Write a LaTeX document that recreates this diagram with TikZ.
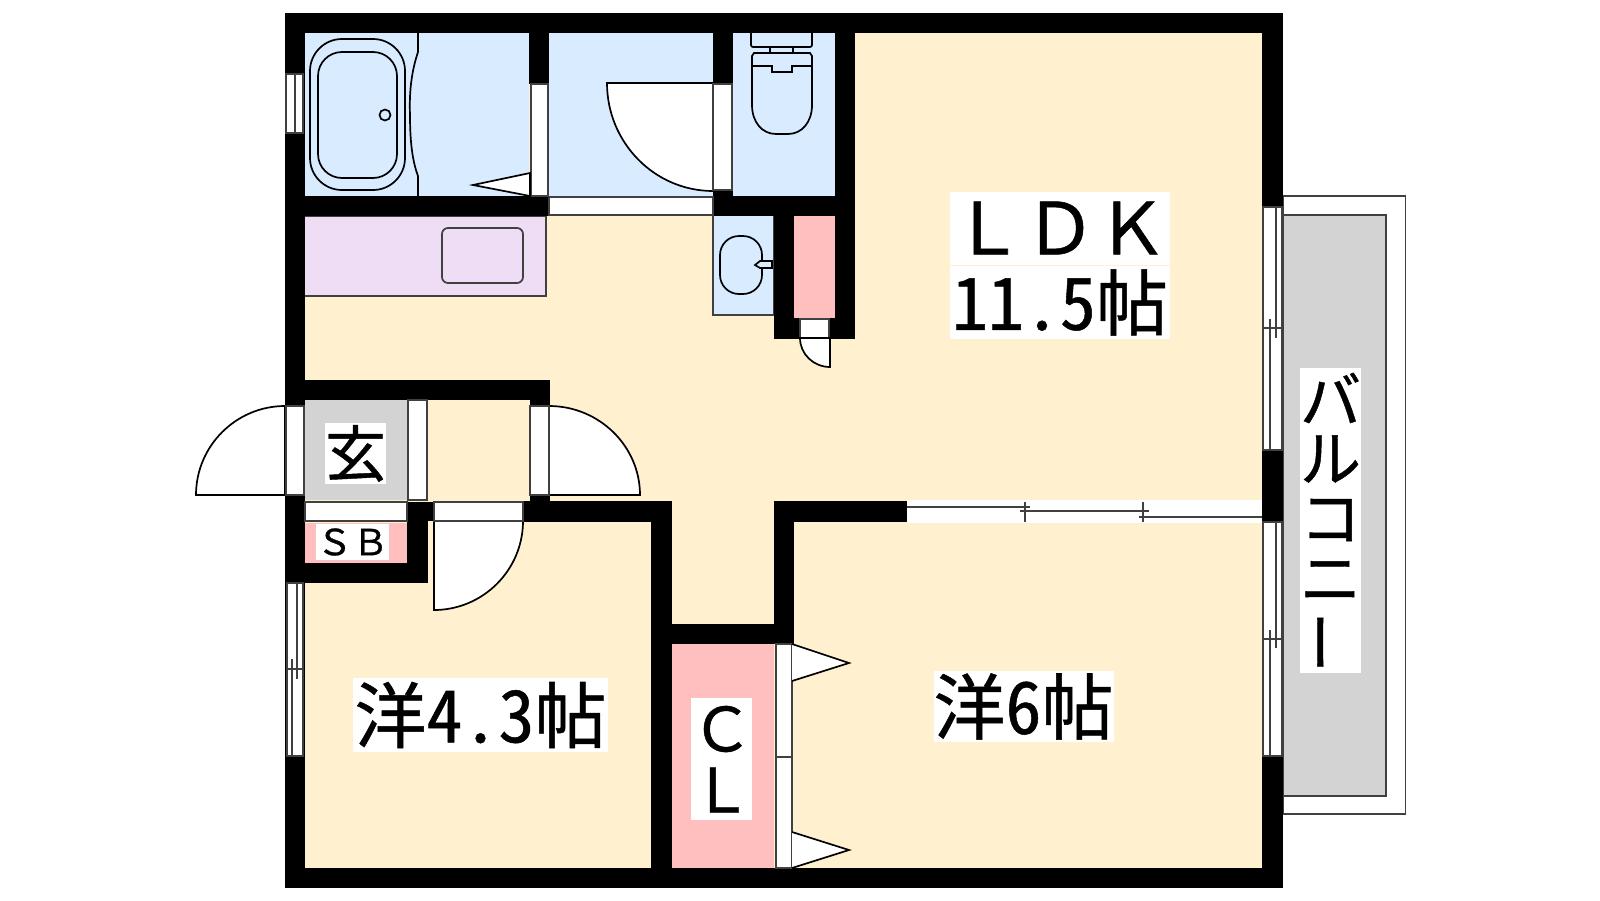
\documentclass[tikz,border=0pt]{standalone}
\usepackage{fontspec}
\newfontfamily\jpf[FakeBold=0.7]{Noto Sans CJK JP}
\newfontfamily\jph[RawFeature=+hwid,FakeBold=0.7]{Noto Sans CJK JP}
\definecolor{cream}{HTML}{FFF0D0}
\definecolor{bluer}{HTML}{D9EBFF}
\definecolor{lilac}{HTML}{EEDDF5}
\definecolor{pinkr}{HTML}{FFBFBF}
\definecolor{grayr}{HTML}{D3D3D3}
\definecolor{lin}{HTML}{404040}
\tikzset{
  wall/.style={fill=black,draw=none},
  fitting/.style={draw=black,line width=1.7pt},
  door/.style={draw=lin,fill=white,line width=1.6pt},
  thin/.style={draw=lin,line width=1.3pt},
  label/.style={fill=white,inner sep=0pt,outer sep=0pt,align=center,text=black},
}
\begin{document}
\begin{tikzpicture}[x=1pt,y=-1pt]
\useasboundingbox (0,0) rectangle (1600,900);
% balcony
\draw[door] (1283,196) rectangle (1405.5,814);
\draw[draw=lin,fill=grayr,line width=1.7pt] (1283,215) rectangle (1386,796);
% floors
\fill[cream] (300,28) rectangle (1265,870);
\fill[bluer] (305,33) rectangle (529,196);
\fill[bluer] (549,33) rectangle (713,196);
\fill[bluer] (733,33) rectangle (835,196);
\draw[draw=lin,fill=bluer,line width=1.5pt] (713,216) -- (713,315) -- (774,315) -- (774,216);
\draw[draw=lin,fill=lilac,line width=1.5pt] (305,216) -- (546,216) -- (546,296) -- (305,296);
\fill[pinkr] (794,216) rectangle (835,318);
\fill[grayr] (305,400) rectangle (407,500);
\fill[pinkr] (305,523) rectangle (407,563);
\fill[pinkr] (672,644) rectangle (774,868);
% walls
\fill[wall] (285,13) rectangle (1283,33);
\fill[wall] (285,868) rectangle (1283,888);
\fill[wall] (285,13) rectangle (305,888);
\fill[wall] (1262,13) rectangle (1283,888);
\fill[wall] (529,33) rectangle (549,84);
\fill[wall] (285,196) rectangle (549,216);
\fill[wall] (713,33) rectangle (733,84);
\fill[wall] (713,190) rectangle (733,216);
\fill[wall] (713,196) rectangle (855,216);
\fill[wall] (835,33) rectangle (855,339);
\fill[wall] (774,216) rectangle (794,339);
\fill[wall] (774,318) rectangle (855,339);
\fill[wall] (285,380) rectangle (550,400);
\fill[wall] (530,400) rectangle (550,406);
\fill[wall] (530,495) rectangle (550,502);
\fill[wall] (407,502) rectangle (428,583);
\fill[wall] (407,502) rectangle (434,521);
\fill[wall] (285,563) rectangle (428,583);
\fill[wall] (523,501) rectangle (672,522);
\fill[wall] (651,501) rectangle (672,868);
\fill[wall] (672,624) rectangle (794,644);
\fill[wall] (774,501) rectangle (794,644);
\fill[wall] (774,501) rectangle (907,522);
% bath fittings
\draw[fitting] (418,33) -- (418,52) .. controls (412,70) and (409,90) .. (410,115) .. controls (410,140) and (412,160) .. (418,176) -- (418,196);
\draw[fitting,rounded corners=32pt] (310,39) rectangle (405,190);
\draw[fitting,rounded corners=24pt] (318,52) rectangle (397,178);
\draw[fitting] (385,115) circle (5.5);
% bath window
\draw[door] (286,74) rectangle (303,133);
\draw[thin] (295,74) -- (295,133);
% bath door and tip
\draw[door] (531,84) rectangle (548,196);
\draw[fitting,fill=white] (530,173) -- (473,185) -- (530,196) -- cycle;
% hall door swing
\draw[fitting,fill=white] (713,83) -- (607,83) .. controls (607,142.6) and (654.5,191) .. (713,191) -- cycle;
\draw[door] (713,84) rectangle (732,190);
\draw[door] (549,197) rectangle (713,215);
% kitchen sink
\draw[draw=lin,line width=1.7pt,rounded corners=6pt] (442,228) rectangle (523,283);
% toilet
\draw[fitting,rounded corners=2pt] (751,33) -- (751,47) -- (812,47) -- (812,33);
\draw[fitting] (770,47) rectangle (793,53);
\draw[fitting] (754,53) -- (810,53) -- (812,56) -- (812,105) .. controls (812,122) and (802,134) .. (788,134) -- (776,134) .. controls (762,134) and (752,122) .. (752,105) -- (752,56) -- cycle;
\draw[fitting] (751,66) -- (772,66) -- (772,72) -- (792,72) -- (792,66) -- (813,66);
% washbasin
\draw[fitting,rounded corners=19pt] (720,236) rectangle (762,294);
\draw[fitting,fill=bluer] (772,261) -- (772,268) -- (760,268) -- (755,265) -- (760,261) -- cycle;
% closet door at top
\draw[door] (800,319) rectangle (829,338);
\draw[fitting,fill=white] (800,338) .. controls (800,354) and (813.5,367) .. (830,367) -- (830,338) -- cycle;
% entrance doors
\draw[fitting,fill=white] (285,495) -- (285,406) .. controls (236,406) and (196,446) .. (196,495) -- cycle;
\draw[door] (286,406) rectangle (304,495);
\draw[door] (408,400) rectangle (427,500);
\draw[fitting,fill=white] (549,495) -- (549,406) .. controls (599,406) and (640,446) .. (640,495) -- cycle;
\draw[door] (530,406) rectangle (549,495);
\draw[door] (305,502) rectangle (407,521);
\draw[fitting,fill=white] (434,521) -- (523,521) .. controls (523,570) and (483,610) .. (434,610) -- cycle;
\draw[door] (434,502) rectangle (523,521);
% lower left window
\draw[door] (287,583) rectangle (303,756);
\draw[thin] (287,669) -- (303,669);
\draw[thin] (297,583) -- (297,679);
\draw[thin] (292,659) -- (292,756);
% closet doors
\draw[door] (776,644) rectangle (792,868);
\draw[door] (776,757) -- (792,757);
\draw[fitting,fill=white] (792,644) -- (849,663) -- (792,681);
\draw[fitting,fill=white] (792,832) -- (849,850) -- (792,868);
% sliding door
\fill[white] (907,500) rectangle (1262,523);
\draw[thin] (907,507) -- (1030,507);
\draw[thin] (1020,511) -- (1149,511);
\draw[thin] (1139,517) -- (1262,517);
\draw[thin] (1025,502) -- (1025,522);
\draw[thin] (1143,502) -- (1143,522);
% right windows
\draw[door] (1263,207) rectangle (1282,450);
\draw[thin] (1263,328) -- (1282,328);
\draw[thin] (1276,207) -- (1276,338);
\draw[thin] (1270,319) -- (1270,450);
\draw[door] (1263,522) rectangle (1282,756);
\draw[thin] (1263,639) -- (1282,639);
\draw[thin] (1276,522) -- (1276,648);
\draw[thin] (1270,630) -- (1270,756);
% labels
\node[label,minimum width=220pt,minimum height=73pt,font=\jpf\fontsize{72}{72}\selectfont] (ldk) at (1060,228) {ＬＤＫ};
\node[label,minimum width=220pt,minimum height=73pt,font=\jph\fontsize{72}{72}\selectfont] (ldkarea) at (1060,302.5) {11.5帖};
\node[label,minimum width=179pt,minimum height=71pt,font=\jph\fontsize{72}{72}\selectfont] (west6) at (1023.5,706.5) {洋6帖};
\node[label,minimum width=255pt,minimum height=74pt,font=\jph\fontsize{72}{72}\selectfont] (west4) at (480.5,715) {洋4.3帖};
\node[label,minimum width=61pt,minimum height=61pt,font=\jpf\fontsize{61}{61}\selectfont] (genkan) at (355.5,453.5) {玄};
\node[label,minimum width=73pt,minimum height=36pt,font=\jpf\fontsize{36}{36}\selectfont] (sb) at (352.5,542) {ＳＢ};
\fill[white] (691,698) rectangle (752,820);
\node[inner sep=0pt,font=\jpf\fontsize{61}{61}\selectfont] (cl1) at (722,729) {Ｃ};
\node[inner sep=0pt,font=\jpf\fontsize{61}{61}\selectfont] (cl2) at (722,790) {Ｌ};
\fill[white] (1300,368) rectangle (1361,673);
\node[inner sep=0pt,font=\jpf\fontsize{61}{61}\selectfont] (b1) at (1330.5,398) {バ};
\node[inner sep=0pt,font=\jpf\fontsize{61}{61}\selectfont] (b2) at (1330.5,459) {ル};
\node[inner sep=0pt,font=\jpf\fontsize{61}{61}\selectfont] (b3) at (1330.5,520) {コ};
\node[inner sep=0pt,font=\jpf\fontsize{61}{61}\selectfont] (b4) at (1330.5,581) {ニ};
\node[inner sep=0pt,rotate=90,font=\jpf\fontsize{61}{61}\selectfont] (b5) at (1330.5,642) {ー};
\end{tikzpicture}
\end{document}
